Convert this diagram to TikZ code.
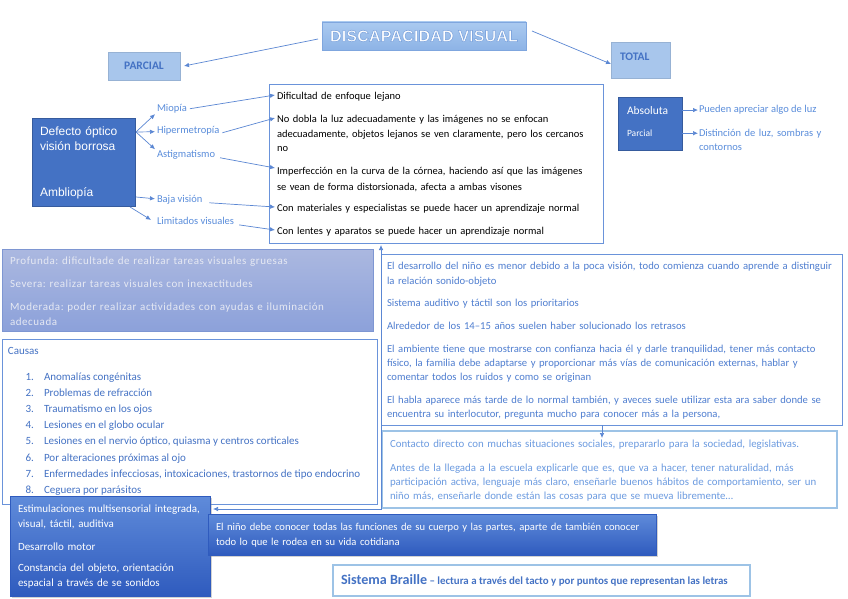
\documentclass[tikz,border=0pt]{standalone}
\usepackage{fontspec}
\setmainfont{Carlito}
\newfontfamily\arialf{Liberation Sans}
\newfontfamily\spacedf[LetterSpace=5]{Carlito}
\usetikzlibrary{arrows.meta,shadows,calc}
\frenchspacing
\definecolor{dblue}{HTML}{4472C4}
\definecolor{lbltxt}{HTML}{5A8DDB}
\definecolor{arrc}{HTML}{5B87D3}
\definecolor{boxline}{HTML}{6A93DA}
\definecolor{paleb}{HTML}{A8C6EC}
\definecolor{palebord}{HTML}{9DC3E6}
\definecolor{causetxt}{HTML}{4472C4}
\definecolor{righttxt}{HTML}{4F7ED0}
\definecolor{conttxt}{HTML}{6C9BE0}
\definecolor{greytxt}{HTML}{E6E9F3}
\definecolor{greytop}{HTML}{ABB8E0}
\definecolor{greybot}{HTML}{8CA1DA}
\definecolor{greyline}{HTML}{7E96D2}
\definecolor{gradtop}{HTML}{5F8BDA}
\definecolor{gradbot}{HTML}{2F5BBE}
\definecolor{titletop}{HTML}{AACAF0}
\definecolor{titlebot}{HTML}{8DB3E6}
\definecolor{outlc}{HTML}{7FA6DE}
\newcommand{\outltext}[1]{{\color{white}\special{pdf:literal direct 2 Tr 0.6 w 0.50 0.65 0.87 RG}#1\special{pdf:literal direct 0 Tr}}}
\begin{document}
\begin{tikzpicture}[x=1pt,y=-1pt,
  every node/.style={inner sep=0pt,outer sep=0pt},
  arr/.style={draw=arrc,line width=0.7pt,-{Latex[length=5pt,width=4.5pt]}},
  biarr/.style={draw=arrc,line width=0.7pt,{Latex[length=5pt,width=4.5pt]}-{Latex[length=5pt,width=4.5pt]}},
  framebox/.style={draw=boxline,line width=1pt,fill=white,anchor=north west},
  lightbox/.style={draw=palebord,line width=1.5pt,fill=white,anchor=north west},
  gradbox/.style={anchor=north west,top color=gradtop,bottom color=gradbot,draw=gradbot,line width=0.5pt,
    drop shadow={opacity=0.35,shadow xshift=2pt,shadow yshift=-2pt}},
  bluebox/.style={anchor=north west,fill=dblue,draw=dblue!80!black,line width=0.4pt},
  palebox/.style={fill=paleb,draw=paleb!90!black,line width=0.4pt},
  lbl/.style={text=lbltxt,font=\fontsize{10.5}{13}\selectfont,anchor=base west},
  midtxt/.style={text=black,font=\fontsize{10.5}{#1}\selectfont,anchor=base west,align=left,text width=330pt},
  midtxt/.default=15,
  greyt/.style={text=greytxt,font=\spacedf\fontsize{11}{14.5}\selectfont,anchor=base west,align=left,text width=360pt},
  causet/.style={text=causetxt,font=\fontsize{11}{13}\selectfont,anchor=base west},
  causen/.style={text=causetxt,font=\fontsize{11}{13}\selectfont,anchor=base east},
  rtxt/.style={text=righttxt,font=\fontsize{10.65}{#1}\selectfont,anchor=base west,align=left,text width=455pt},
  rtxt/.default=14.5,
  ctxt/.style={text=conttxt,font=\fontsize{10.85}{14}\selectfont,anchor=base west,align=left,text width=448pt},
  wtxt/.style={text=white,font=\fontsize{#1}{15}\selectfont,anchor=base west,align=left,text width=440pt},
]
\useasboundingbox (0,0) rectangle (848,599);
\fill[white] (0,0) rectangle (848,599);

% ---- title row
\node[anchor=center,minimum width=204pt,minimum height=28pt,top color=titletop,bottom color=titlebot,draw=outlc,line width=0.5pt,
  font=\arialf\bfseries\fontsize{16.3}{18}\selectfont] (title) at (424,36) {\outltext{DISCAPACIDAD VISUAL}};
\node[palebox,minimum width=72pt,minimum height=28pt,text=dblue,font=\bfseries\fontsize{11.5}{14}\selectfont] (parcial) at (144,66) {PARCIAL};
\node[palebox,minimum width=59pt,minimum height=36pt,anchor=north west] (total) at (611,42) {};
\node[text=dblue,font=\bfseries\fontsize{11.5}{14}\selectfont,anchor=base west] (totaltxt) at (620,61) {TOTAL};
\draw[arr] ([xshift=-4pt,yshift=-3pt]title.west) -- ([xshift=4pt]parcial.east);
\draw[arr] ([xshift=6pt,yshift=5pt]title.east) -- ([yshift=-4pt]total.west);

% ---- partial: left block
\node[bluebox,minimum width=103pt,minimum height=88pt] (defecto) at (32,118) {};
\node[text=white,font=\arialf\fontsize{12}{15}\selectfont,anchor=base west,align=left,text width=95pt] (deftxt) at (40,135.5) {Defecto óptico\\visión borrosa};
\node[text=white,font=\arialf\fontsize{12}{15}\selectfont,anchor=base west] (ambl) at (40,196.5) {Ambliopía};

\node[lbl] (miopia) at (157,111.5) {Miopía};
\node[lbl] (hiper) at (157,133.5) {Hipermetropía};
\node[lbl] (astig) at (157,157.5) {Astigmatismo};
\node[lbl] (baja) at (157,202.5) {Baja visión};
\node[lbl] (limit) at (157,224.5) {Limitados visuales};

\coordinate (dA) at (136,132);
\coordinate (dB) at (136,197);
\coordinate (dC) at (130,207);
\draw[arr] (dA) -- ([xshift=-2pt,yshift=-1pt]miopia.south west);
\draw[arr] (dA) -- ([xshift=-2pt,yshift=-1pt]hiper.west);
\draw[arr] (dA) -- ([xshift=-2pt,yshift=1pt]astig.north west);
\draw[arr] (dB) -- ([xshift=-2pt,yshift=1pt]baja.west);
\draw[arr] (dC) -- ([xshift=-6pt,yshift=1pt]limit.west);

% middle box
\node[framebox,minimum width=334pt,minimum height=158pt] (mid) at (269,85) {};
\coordinate (m1) at (275,95);
\coordinate (m2) at (275,118);
\coordinate (m3) at (275,168);
\coordinate (m4) at (275,207);
\coordinate (m5) at (275,230);
\draw[arr] ([xshift=3pt]miopia.east) -- (m1);
\draw[arr] ([xshift=3pt,yshift=-2pt]hiper.east) -- (m2);
\draw[arr] ([xshift=5pt,yshift=-3pt]astig.east) -- (m3);
\draw[arr] ([xshift=7pt,yshift=-3pt]baja.east) -- (m4);
\draw[arr] ([xshift=5pt,yshift=-4pt]limit.east) -- (m5);

\node[midtxt] (t1) at (277,99.5) {Dificultad de enfoque lejano};
\node[midtxt=14.5] (t2) at (277,122.5) {No dobla la luz adecuadamente y las imágenes no se enfocan\\adecuadamente, objetos lejanos se ven claramente, pero los cercanos\\no};
\node[midtxt=15.5] (t3) at (277,174.5) {Imperfección en la curva de la córnea, haciendo así que las imágenes\\se vean de forma distorsionada, afecta a ambas visones};
\node[midtxt] (t4) at (277,211.5) {Con materiales y especialistas se puede hacer un aprendizaje normal};
\node[midtxt] (t5) at (277,234.5) {Con lentes y aparatos se puede hacer un aprendizaje normal};

% ---- total: right block
\node[bluebox,minimum width=64pt,minimum height=53pt] (abs) at (618,97) {};
\node[text=white,font=\fontsize{11.5}{14}\selectfont,anchor=base west] (abstxt) at (627,114) {Absoluta};
\node[text=white,font=\fontsize{9.5}{12}\selectfont,anchor=base west] (partxt) at (627,136.5) {Parcial};
\node[lbl] (luz) at (699,112.5) {Pueden apreciar algo de luz};
\node[lbl,align=left,text width=140pt,font=\fontsize{10.5}{14}\selectfont] (dist) at (699,136.5) {Distinción de luz, sombras y\\contornos};
\draw[arr] (abs.east |- abstxt.west) -- ([xshift=-1pt]luz.west |- abstxt.west);
\draw[arr] (abs.east |- partxt.west) -- ([xshift=-1pt]luz.west |- partxt.west);

% ---- grey severity box
\node[anchor=north west,minimum width=371pt,minimum height=82pt,top color=greytop,bottom color=greybot,draw=greyline,line width=0.8pt] (grey) at (2,249) {};
\node[greyt] (g1) at (10,264.5) {Profunda: dificultade de realizar tareas visuales gruesas};
\node[greyt] (g2) at (10,287.5) {Severa: realizar tareas visuales con inexactitudes};
\node[greyt] (g3) at (10,310.5) {Moderada: poder realizar actividades con ayudas e iluminación\\adecuada};

% ---- causas box
\node[framebox,minimum width=375pt,minimum height=165pt] (causas) at (2,339) {};
\node[causet] (causastit) at (8,354.5) {Causas};
\foreach \n/\t [count=\k from 0] in {1/Anomalías congénitas,2/Problemas de refracción,3/Traumatismo en los ojos,4/Lesiones en el globo ocular,5/{Lesiones en el nervio óptico, quiasma y centros corticales},6/Por alteraciones próximas al ojo,7/{Enfermedades infecciosas, intoxicaciones, trastornos de tipo endocrino},8/Ceguera por parásitos}{
  \node[causen] (cn\n) at (34,380.5+16.1*\k) {\n.};
  \node[causet] (ct\n) at (44,380.5+16.1*\k) {\t};
}

% ---- right development box
\node[framebox,minimum width=461pt,minimum height=171pt] (rbox) at (381,254) {};
\node[rtxt=15] (r1) at (387,269.5) {El desarrollo del niño es menor debido a la poca visión, todo comienza cuando aprende a distinguir\\la relación sonido-objeto};
\node[rtxt] (r2) at (387,306.5) {Sistema auditivo y táctil son los prioritarios};
\node[rtxt] (r3) at (387,329.5) {Alrededor de los 14–15 años suelen haber solucionado los retrasos};
\node[rtxt=14] (r4) at (387,352.5) {El ambiente tiene que mostrarse con confianza hacia él y darle tranquilidad, tener más contacto\\físico, la familia debe adaptarse y proporcionar más vías de comunicación externas, hablar y\\comentar todos los ruidos y como se originan};
\node[rtxt=14] (r5) at (387,403.5) {El habla aparece más tarde de lo normal también, y aveces suele utilizar esta ara saber donde se\\encuentra su interlocutor, pregunta mucho para conocer más a la persona,};

% ---- contact box
\node[lightbox,minimum width=455pt,minimum height=77pt] (cbox) at (382,431) {};
\node[ctxt] (c1) at (390,447.5) {Contacto directo con muchas situaciones sociales, prepararlo para la sociedad, legislativas.};
\node[ctxt] (c2) at (390,471.5) {Antes de la llegada a la escuela explicarle que es, que va a hacer, tener naturalidad, más\\participación activa, lenguaje más claro, enseñarle buenos hábitos de comportamiento, ser un\\niño más, enseñarle donde están las cosas para que se mueva libremente…};
\draw[arr] ([xshift=-9.5pt]rbox.south) -- ++(0,13);

% ---- bottom gradient boxes
\node[gradbox,minimum width=200pt,minimum height=100pt] (estim) at (10,496) {};
\node[wtxt=11] (e1) at (18,512.5) {Estimulaciones multisensorial integrada,\\visual, táctil, auditiva};
\node[wtxt=11] (e2) at (18,550.5) {Desarrollo motor};
\node[wtxt=11] (e3) at (18,571.5) {Constancia del objeto, orientación\\espacial a través de se sonidos};

\node[gradbox,minimum width=448pt,minimum height=41pt] (nino) at (208,514) {};
\node[wtxt=10.6] (n1) at (216,530.5) {El niño debe conocer todas las funciones de su cuerpo y las partes, aparte de también conocer\\todo lo que le rodea en su vida cotidiana};

\coordinate (j) at (381,509);
\draw[biarr] ([xshift=3pt]estim.east |- j) -| ([yshift=9pt]rbox.north west);

% ---- braille
\node[lightbox,minimum width=417pt,minimum height=31pt] (braille) at (333,565) {};
\node[anchor=base west,text=dblue,font=\bfseries] (btxt) at (341,584.5) {{\fontsize{14.1}{16}\selectfont Sistema Braille}{\fontsize{10.9}{12}\selectfont\ – lectura a través del tacto y por puntos que representan las letras}};
\end{tikzpicture}
\end{document}
